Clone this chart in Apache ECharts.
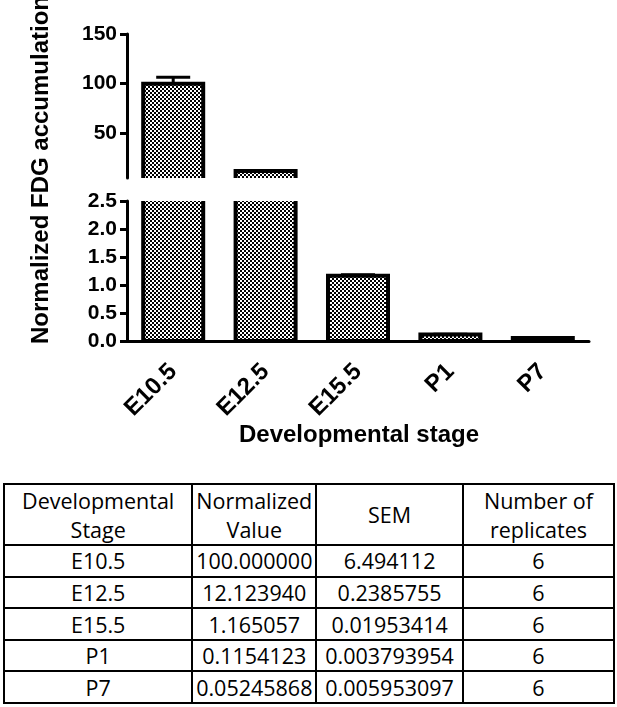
<!DOCTYPE html>
<html>
<head>
<meta charset="utf-8">
<script src="https://cdn.jsdelivr.net/npm/echarts@6/dist/echarts.min.js"></script>
<style>
  body { margin: 0; background: #fff; }
  #chart { position: absolute; left: 0; top: 0; width: 617px; height: 470px; }
  #tbl {
    position: absolute; left: 3px; top: 483px; width: 612px; height: 221px;
    border-collapse: collapse; font-family: 'Open Sans', sans-serif; font-size: 21.5px; color: #000;
  }
  #tbl td { border: 2px solid #000; text-align: center; padding: 0; line-height: 29px; }
  #tbl tr.head td { height: 58px; }
  #tbl tr.row td { height: 28px; }
</style>
</head>
<body>
<div id="chart"></div>
<table id="tbl"></table>
<script>
const stages = ['E10.5', 'E12.5', 'E15.5', 'P1', 'P7']
const normalizedText = ['100.000000', '12.123940', '1.165057', '0.1154123', '0.05245868']
const semText = ['6.494112', '0.2385755', '0.01953414', '0.003793954', '0.005953097']
const replicates = [6, 6, 6, 6, 6]
const tableHeader = ['Developmental<br>Stage', 'Normalized<br>Value', 'SEM', 'Number of<br>replicates']
const topTicks = [50, 100, 150]

const normalized = normalizedText.map(Number)
const sem = semText.map(Number)

// checker pattern for bar fill
const patternCanvas = document.createElement('canvas')
patternCanvas.width = 4
patternCanvas.height = 4
const pctx = patternCanvas.getContext('2d')
pctx.fillStyle = '#000'
pctx.fillRect(0, 0, 4, 4)
pctx.fillStyle = '#fff'
pctx.fillRect(0, 0, 2, 2)
pctx.fillRect(2, 2, 2, 2)
const pattern = { image: patternCanvas, repeat: 'repeat' }

const font = 'Liberation Sans, Arial, sans-serif'

function renderBar (params, api) {
  const x = api.value(0)
  const v = api.value(1)
  const e = api.value(2)
  const base = api.coord([x, 0])
  const top = api.coord([x, v])
  const errTop = api.coord([x, v + e])
  const bw = 60
  const capW = 34
  return {
    type: 'group',
    children: [
      {
        type: 'rect',
        shape: { x: top[0] - bw / 2, y: top[1], width: bw, height: base[1] - top[1] },
        style: { fill: pattern, stroke: '#000', lineWidth: 4 }
      },
      {
        type: 'line',
        shape: { x1: top[0], y1: top[1], x2: top[0], y2: errTop[1] },
        style: { stroke: '#000', lineWidth: 3 }
      },
      {
        type: 'line',
        shape: { x1: top[0] - capW / 2, y1: errTop[1], x2: top[0] + capW / 2, y2: errTop[1] },
        style: { stroke: '#000', lineWidth: 3 }
      }
    ]
  }
}

const barData = stages.map((s, i) => [i, normalized[i], sem[i]])

const axisLabelStyle = { color: '#000', fontFamily: font, fontWeight: 'bold', fontSize: 21 }

const chart = echarts.init(document.getElementById('chart'))
const option = {
  animation: false,
  grid: [
    { left: 127, top: 34, width: 462, height: 144 },
    { left: 127, top: 201, width: 462, height: 140 }
  ],
  xAxis: [
    { type: 'category', gridIndex: 0, data: stages, show: false },
    {
      type: 'category',
      gridIndex: 1,
      data: stages,
      axisLine: { lineStyle: { color: '#000', width: 3 } },
      axisTick: { alignWithLabel: true, length: 10, lineStyle: { color: '#000', width: 3 } },
      axisLabel: Object.assign({}, axisLabelStyle, { rotate: 45, margin: 27, interval: 0, fontSize: 24 })
    }
  ],
  yAxis: [
    {
      type: 'value',
      gridIndex: 0,
      min: 5,
      max: 150,
      axisLine: { show: true, lineStyle: { color: '#000', width: 3 } },
      axisTick: { show: true, length: 7, customValues: topTicks, lineStyle: { color: '#000', width: 3 } },
      axisLabel: Object.assign({ margin: 10, customValues: topTicks }, axisLabelStyle),
      splitLine: { show: false }
    },
    {
      type: 'value',
      gridIndex: 1,
      min: 0,
      max: 2.5,
      interval: 0.5,
      axisLine: { show: true, lineStyle: { color: '#000', width: 3 } },
      axisTick: { show: true, length: 7, lineStyle: { color: '#000', width: 3 } },
      axisLabel: Object.assign({ margin: 10, formatter: v => v.toFixed(1) }, axisLabelStyle),
      splitLine: { show: false }
    }
  ],
  series: [
    {
      type: 'custom',
      xAxisIndex: 0,
      yAxisIndex: 0,
      clip: true,
      renderItem: renderBar,
      encode: { x: 0, y: 1 },
      data: barData
    },
    {
      type: 'custom',
      xAxisIndex: 1,
      yAxisIndex: 1,
      clip: true,
      renderItem: renderBar,
      encode: { x: 0, y: 1 },
      data: barData
    }
  ],
  graphic: [
    {
      type: 'text',
      x: 41,
      y: 170,
      rotation: Math.PI / 2,
      style: {
        text: 'Normalized FDG accumulation',
        fill: '#000',
        font: 'bold 24px ' + font,
        align: 'center',
        verticalAlign: 'middle'
      }
    },
    {
      type: 'text',
      x: 359,
      y: 435,
      style: {
        text: 'Developmental stage',
        fill: '#000',
        font: 'bold 24px ' + font,
        align: 'center',
        verticalAlign: 'middle'
      }
    }
  ]
}
chart.setOption(option)

// table under the chart
const tbl = document.getElementById('tbl')
let html = '<colgroup><col style="width:189px"><col style="width:124px"><col style="width:147px"><col style="width:152px"></colgroup>'
html += '<tr class="head">' + tableHeader.map(h => '<td>' + h + '</td>').join('') + '</tr>'
stages.forEach((s, i) => {
  html += '<tr class="row"><td>' + s + '</td><td>' + normalizedText[i] + '</td><td>' +
    semText[i] + '</td><td>' + replicates[i] + '</td></tr>'
})
tbl.innerHTML = html
</script>
</body>
</html>
